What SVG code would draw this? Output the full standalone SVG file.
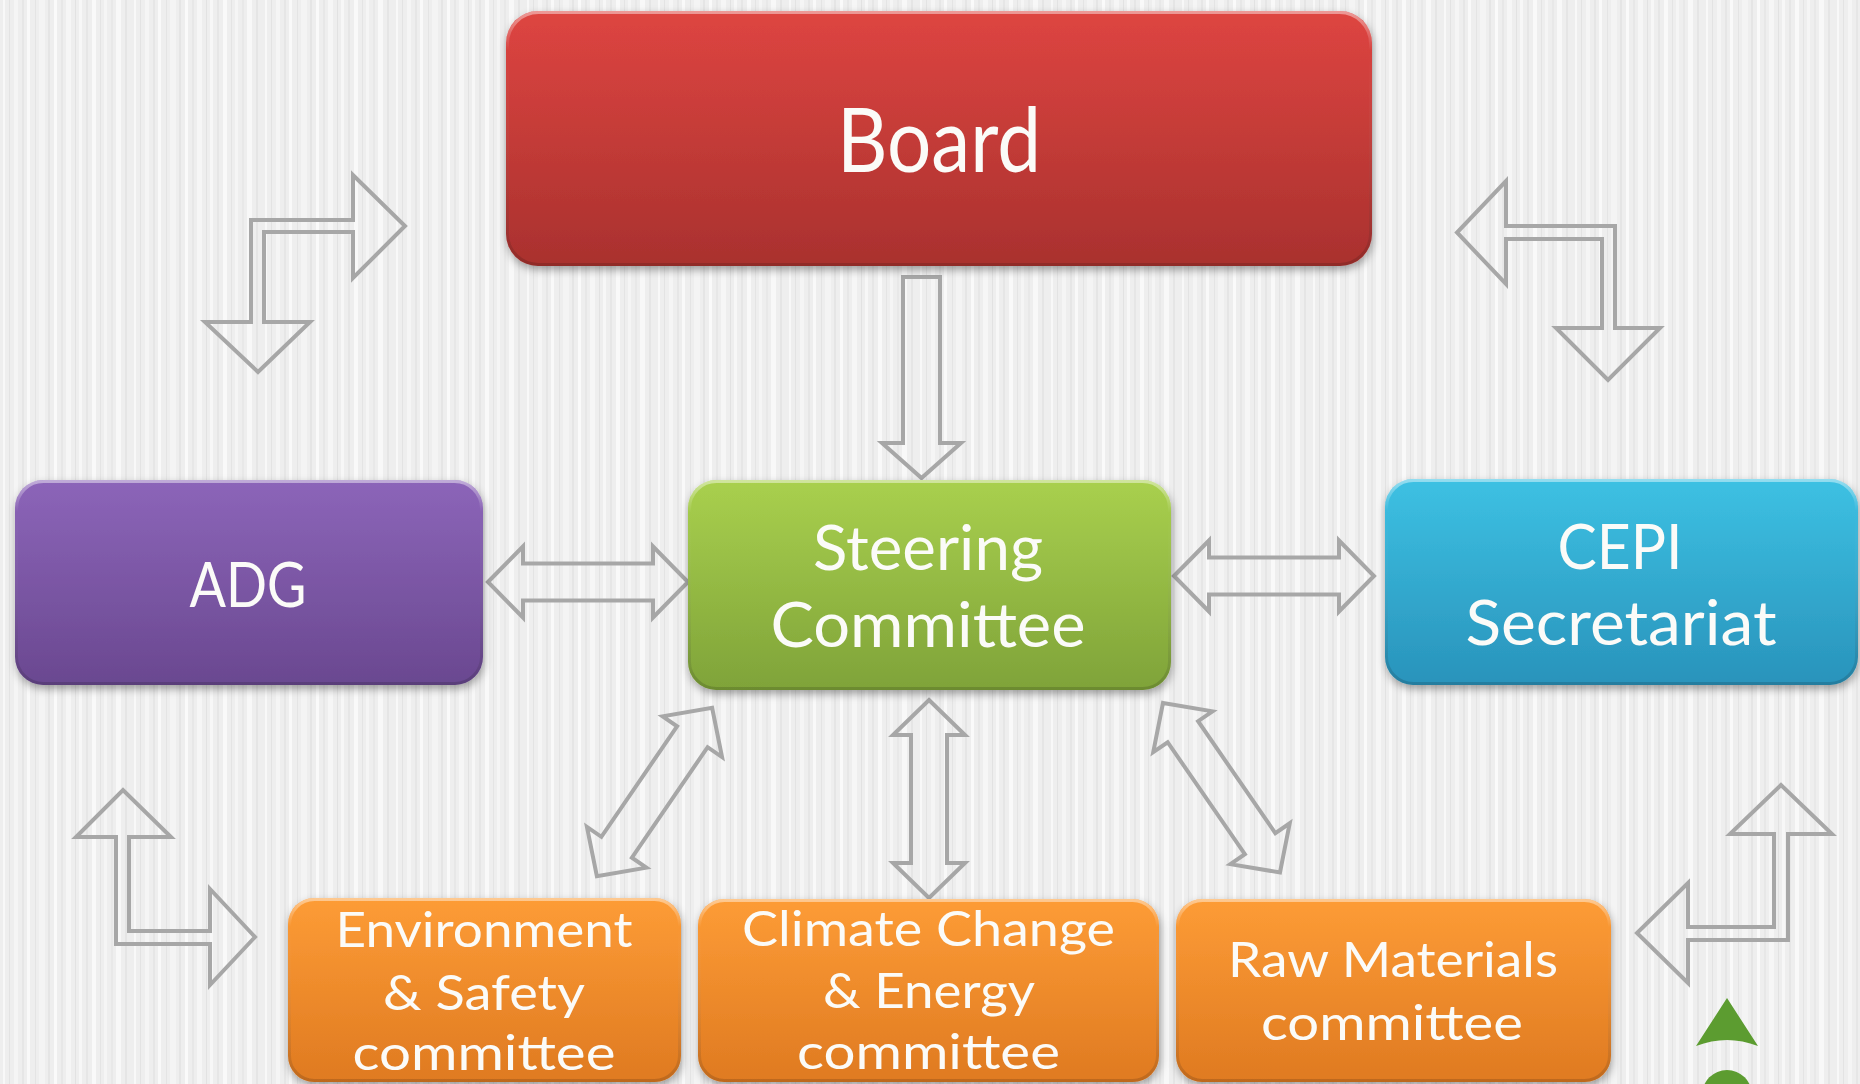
<svg xmlns="http://www.w3.org/2000/svg" width="1860" height="1084" viewBox="0 0 1860 1084">
  <defs>
    <pattern id="bgp" x="0" y="0" width="131" height="1084" patternUnits="userSpaceOnUse">
      <rect x="0" y="0" width="131" height="1084" fill="#eeeeee"/>
      <rect x="3" y="0" width="2" height="1084" fill="#f8f8f8"/>
      <rect x="9" y="0" width="1" height="1084" fill="#e3e3e3"/>
      <rect x="14" y="0" width="4" height="1084" fill="#f5f5f5"/>
      <rect x="22" y="0" width="2" height="1084" fill="#e6e6e6"/>
      <rect x="27" y="0" width="3" height="1084" fill="#f9f9f9"/>
      <rect x="35" y="0" width="1" height="1084" fill="#e4e4e4"/>
      <rect x="39" y="0" width="6" height="1084" fill="#f4f4f4"/>
      <rect x="48" y="0" width="2" height="1084" fill="#e5e5e5"/>
      <rect x="54" y="0" width="3" height="1084" fill="#fafafa"/>
      <rect x="61" y="0" width="2" height="1084" fill="#e7e7e7"/>
      <rect x="66" y="0" width="5" height="1084" fill="#f6f6f6"/>
      <rect x="75" y="0" width="1" height="1084" fill="#e2e2e2"/>
      <rect x="79" y="0" width="3" height="1084" fill="#f7f7f7"/>
      <rect x="86" y="0" width="2" height="1084" fill="#e6e6e6"/>
      <rect x="92" y="0" width="4" height="1084" fill="#f9f9f9"/>
      <rect x="100" y="0" width="1" height="1084" fill="#e4e4e4"/>
      <rect x="104" y="0" width="3" height="1084" fill="#f5f5f5"/>
      <rect x="111" y="0" width="2" height="1084" fill="#e8e8e8"/>
      <rect x="116" y="0" width="5" height="1084" fill="#f8f8f8"/>
      <rect x="125" y="0" width="2" height="1084" fill="#e5e5e5"/>
    </pattern>
    <linearGradient id="gRed" x1="0" y1="0" x2="0" y2="1">
      <stop offset="0" stop-color="#de4541"/>
      <stop offset="1" stop-color="#a9312e"/>
    </linearGradient>
    <linearGradient id="gPurple" x1="0" y1="0" x2="0" y2="1">
      <stop offset="0" stop-color="#8c65b9"/>
      <stop offset="1" stop-color="#6a4890"/>
    </linearGradient>
    <linearGradient id="gGreen" x1="0" y1="0" x2="0" y2="1">
      <stop offset="0" stop-color="#a9d04e"/>
      <stop offset="1" stop-color="#7fa339"/>
    </linearGradient>
    <linearGradient id="gBlue" x1="0" y1="0" x2="0" y2="1">
      <stop offset="0" stop-color="#3dc1e3"/>
      <stop offset="1" stop-color="#2993bb"/>
    </linearGradient>
    <linearGradient id="gOrange" x1="0" y1="0" x2="0" y2="1">
      <stop offset="0" stop-color="#fd9c36"/>
      <stop offset="1" stop-color="#df7a21"/>
    </linearGradient>
    <linearGradient id="gEdge" x1="0" y1="0" x2="0" y2="1">
      <stop offset="0" stop-color="#ffffff" stop-opacity="0.45"/>
      <stop offset="0.15" stop-color="#ffffff" stop-opacity="0"/>
      <stop offset="1" stop-color="#000000" stop-opacity="0.15"/>
    </linearGradient>
    <filter id="shadow" x="-10%" y="-10%" width="120%" height="130%">
      <feDropShadow dx="1" dy="4" stdDeviation="4" flood-color="#000000" flood-opacity="0.35"/>
    </filter>
    <style>
      .box { filter: url(#shadow); }
      .edge { fill: none; stroke: url(#gEdge); stroke-width: 3; }
      .lbl { font-family: Lato, "Open Sans", "Liberation Sans", sans-serif; fill: #fbfbf8; text-anchor: middle; }
      .big { font-size: 90px; }
      .mid { font-size: 61px; }
      .sml { font-size: 49px; }
      .arr { fill: none; stroke: #a7a7a7; stroke-width: 4; stroke-linejoin: miter; }
    </style>
  </defs>

  <rect x="0" y="0" width="1860" height="1084" fill="url(#bgp)"/>

  <g id="connectors">
    <path class="arr" d="M 903,277 L 940,277 L 940,443 L 961,443 L 921.5,478 L 882,443 L 903,443 Z"/>
    <path class="arr" transform="translate(588,582)" d="M -100,0 L -65,-35.5 L -65,-18.5 L 65,-18.5 L 65,-35.5 L 100,0 L 65,35.5 L 65,18.5 L -65,18.5 L -65,35.5 Z"/>
    <path class="arr" transform="translate(1274,576)" d="M -100,0 L -65,-35.5 L -65,-18.5 L 65,-18.5 L 65,-35.5 L 100,0 L 65,35.5 L 65,18.5 L -65,18.5 L -65,35.5 Z"/>
    <path class="arr" transform="translate(929,799) rotate(90)" d="M -99,0 L -64,-36 L -64,-18 L 64,-18 L 64,-36 L 99,0 L 64,36 L 64,18 L -64,18 L -64,36 Z"/>
    <path class="arr" transform="translate(654.5,792) rotate(-55.6)" d="M -102,0 L -67,-36 L -67,-18.5 L 67,-18.5 L 67,-36 L 102,0 L 67,36 L 67,18.5 L -67,18.5 L -67,36 Z"/>
    <path class="arr" transform="translate(1221.5,787.7) rotate(55.4)" d="M -103,0 L -68,-36 L -68,-18.5 L 68,-18.5 L 68,-36 L 103,0 L 68,36 L 68,18.5 L -68,18.5 L -68,36 Z"/>
    <path class="arr" d="M 251,220 L 353,220 L 353,175 L 405,226 L 353,278 L 353,232 L 264,232 L 264,322 L 310,322 L 258,372 L 205,322 L 251,322 Z"/>
    <path class="arr" d="M 1615,226 L 1506,226 L 1506,181 L 1457,232.5 L 1506,284 L 1506,239 L 1602,239 L 1602,328 L 1556,328 L 1608,380 L 1660,328 L 1615,328 Z"/>
    <path class="arr" d="M 116,837 L 76,837 L 123,790 L 171,837 L 129,837 L 129,931 L 210,931 L 210,889 L 255,937 L 210,985 L 210,944 L 116,944 Z"/>
    <path class="arr" d="M 1788,834 L 1832,834 L 1781,785 L 1730,834 L 1774,834 L 1774,927 L 1688,927 L 1688,883 L 1637,933 L 1688,983 L 1688,940 L 1788,940 Z"/>
  </g>

  <g id="board">
    <rect class="box" x="506" y="11" width="866" height="255" rx="32" fill="url(#gRed)"/>
    <rect class="edge" x="507.5" y="12.5" width="863" height="252" rx="31"/>
    <text class="lbl big" x="939" y="172" textLength="204" lengthAdjust="spacingAndGlyphs">Board</text>
  </g>

  <g id="adg">
    <rect class="box" x="15" y="480" width="468" height="205" rx="28" fill="url(#gPurple)"/>
    <rect class="edge" x="16.5" y="481.5" width="465" height="202" rx="27"/>
    <text class="lbl mid" x="248" y="607" textLength="117" lengthAdjust="spacingAndGlyphs">ADG</text>
  </g>

  <g id="steering">
    <rect class="box" x="688" y="480" width="483" height="210" rx="28" fill="url(#gGreen)"/>
    <rect class="edge" x="689.5" y="481.5" width="480" height="207" rx="27"/>
    <text class="lbl mid" x="928" y="570" textLength="230" lengthAdjust="spacingAndGlyphs">Steering</text>
    <text class="lbl mid" x="928" y="647" textLength="315" lengthAdjust="spacingAndGlyphs">Committee</text>
  </g>

  <g id="cepi">
    <rect class="box" x="1385" y="479" width="473" height="206" rx="28" fill="url(#gBlue)"/>
    <rect class="edge" x="1386.5" y="480.5" width="470" height="203" rx="27"/>
    <text class="lbl mid" x="1620" y="569" textLength="125" lengthAdjust="spacingAndGlyphs">CEPI</text>
    <text class="lbl mid" x="1621" y="645" textLength="311" lengthAdjust="spacingAndGlyphs">Secretariat</text>
  </g>

  <g id="env">
    <rect class="box" x="288" y="898" width="393" height="184" rx="26" fill="url(#gOrange)"/>
    <rect class="edge" x="289.5" y="899.5" width="390" height="181" rx="25"/>
    <text class="lbl sml" x="484" y="947" textLength="297" lengthAdjust="spacingAndGlyphs">Environment</text>
    <text class="lbl sml" x="484" y="1010" textLength="202" lengthAdjust="spacingAndGlyphs">&amp; Safety</text>
    <text class="lbl sml" x="484" y="1070" textLength="263" lengthAdjust="spacingAndGlyphs">committee</text>
  </g>

  <g id="climate">
    <rect class="box" x="698" y="899" width="461" height="183" rx="26" fill="url(#gOrange)"/>
    <rect class="edge" x="699.5" y="900.5" width="458" height="180" rx="25"/>
    <text class="lbl sml" x="928.5" y="946" textLength="373" lengthAdjust="spacingAndGlyphs">Climate Change</text>
    <text class="lbl sml" x="929" y="1008" textLength="212" lengthAdjust="spacingAndGlyphs">&amp; Energy</text>
    <text class="lbl sml" x="928.5" y="1069" textLength="263" lengthAdjust="spacingAndGlyphs">committee</text>
  </g>

  <g id="raw">
    <rect class="box" x="1176" y="899" width="435" height="183" rx="26" fill="url(#gOrange)"/>
    <rect class="edge" x="1177.5" y="900.5" width="432" height="180" rx="25"/>
    <text class="lbl sml" x="1393" y="977" textLength="330" lengthAdjust="spacingAndGlyphs">Raw Materials</text>
    <text class="lbl sml" x="1392" y="1040" textLength="262" lengthAdjust="spacingAndGlyphs">committee</text>
  </g>

  <g id="nav">
    <path d="M 1727,998 L 1758,1046 Q 1727,1034 1696,1046 Z" fill="#5c9c30"/>
    <circle cx="1727" cy="1095" r="25" fill="#5c9c30"/>
  </g>
</svg>
